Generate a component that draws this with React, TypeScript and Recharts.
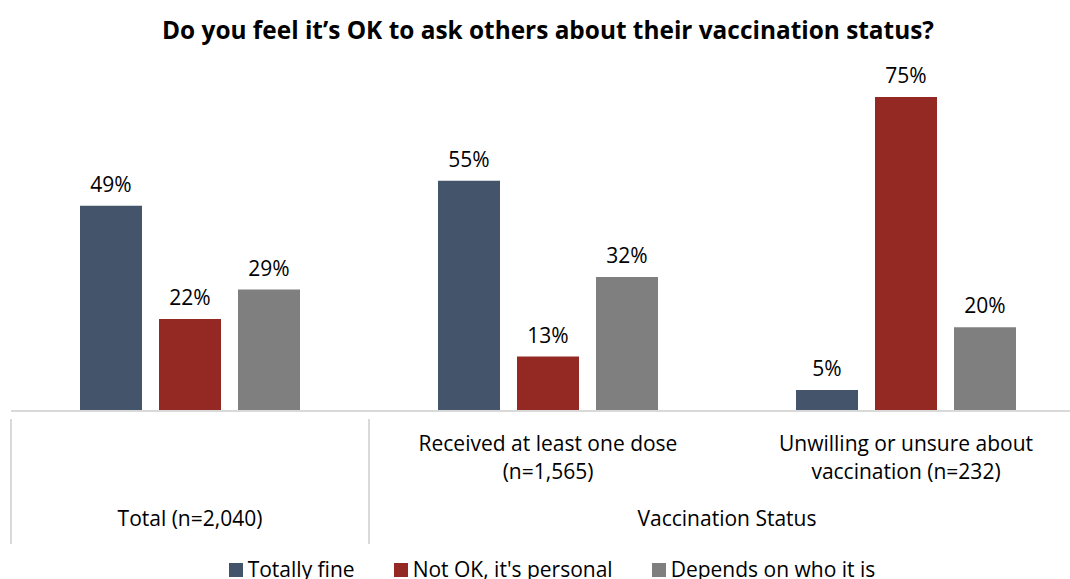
import React from 'react';
import { BarChart, Bar, XAxis, YAxis, LabelList, Legend } from 'recharts';

const categories = ['Total (n=2,040)', 'Received at least one dose (n=1,565)', 'Unwilling or unsure about vaccination (n=232)'];
const innerLabels = [[], ['Received at least one dose', '(n=1,565)'], ['Unwilling or unsure about', 'vaccination (n=232)']];
const totallyFine = [49, 55, 5];
const notOk = [22, 13, 75];
const depends = [29, 32, 20];

const FONT = '"Open Sans", sans-serif';
const CHART_W = 1100;
const MARGIN_L = 11;
const MARGIN_R = 15;
const STEP = (CHART_W - MARGIN_L - MARGIN_R) / categories.length;

const data = categories.map((name, i) => ({
  name,
  fine: totallyFine[i],
  notOk: notOk[i],
  depends: depends[i],
}));

const series = [
  { key: 'fine', label: 'Totally fine', color: '#44546A' },
  { key: 'notOk', label: "Not OK, it's personal", color: '#942823' },
  { key: 'depends', label: 'Depends on who it is', color: '#7F7F7F' },
];

const GroupTick = (props: any) => {
  const { x, y, index } = props;
  const lines: string[] = innerLabels[index] || [];
  return (
    <g>
      {lines.map((t, i) => (
        <text key={i} x={x} y={y + 32 + i * 28} textAnchor="middle" fontSize={21} fill="#000" fontFamily={FONT}>
          {t}
        </text>
      ))}
      {index === 0 && (
        <>
          <line x1={x - STEP / 2} x2={x - STEP / 2} y1={y} y2={y + 125} stroke="#d9d9d9" strokeWidth={2} />
          <line x1={x + STEP / 2} x2={x + STEP / 2} y1={y} y2={y + 125} stroke="#d9d9d9" strokeWidth={2} />
          <text x={x} y={y + 107} textAnchor="middle" fontSize={21} fill="#000" fontFamily={FONT}>
            Total (n=2,040)
          </text>
        </>
      )}
      {index === 2 && (
        <text x={x - STEP / 2} y={y + 107} textAnchor="middle" fontSize={21} fill="#000" fontFamily={FONT}>
          Vaccination Status
        </text>
      )}
    </g>
  );
};

const LegendContent = () => (
  <div style={{ display: 'flex', justifyContent: 'center', gap: 39, fontFamily: FONT, fontSize: 21, lineHeight: '28px' }}>
    {series.map((s) => (
      <div key={s.key} style={{ display: 'flex', alignItems: 'center' }}>
        <span style={{ display: 'inline-block', width: 14, height: 14, background: s.color, marginRight: 5, marginTop: 2 }} />
        <span>{s.label}</span>
      </div>
    ))}
  </div>
);

export default function App() {
  return (
    <div style={{ position: 'absolute', left: 0, top: 0, width: 1070, height: 579, overflow: 'hidden', background: '#fff' }}>
      <div
        style={{
          position: 'absolute',
          left: MARGIN_L,
          width: CHART_W - MARGIN_L - MARGIN_R,
          top: 14,
          textAlign: 'center',
          fontFamily: FONT,
          fontWeight: 'bold',
          fontSize: 24.4,
          lineHeight: '32px',
          color: '#000',
        }}
      >
        Do you feel it’s OK to ask others about their vaccination status?
      </div>
      <BarChart
        width={CHART_W}
        height={579}
        data={data}
        margin={{ top: 76, right: MARGIN_R, left: MARGIN_L, bottom: 38 }}
        barGap={17}
        barCategoryGap={69}
      >
        <XAxis
          dataKey="name"
          axisLine={{ stroke: '#d9d9d9', strokeWidth: 2 }}
          tickLine={false}
          height={130}
          interval={0}
          tick={<GroupTick />}
        />
        <YAxis hide domain={[0, 80]} />
        <Legend
          verticalAlign="middle"
          layout="horizontal"
          align="center"
          content={<LegendContent />}
          wrapperStyle={{ top: 555, left: 15, width: 1074 }}
        />
        {series.map((s) => (
          <Bar key={s.key} dataKey={s.key} name={s.label} fill={s.color} barSize={62} isAnimationActive={false}>
            <LabelList
              dataKey={s.key}
              position="top"
              offset={14}
              formatter={(v: any) => `${v}%`}
              style={{ fontFamily: FONT, fontSize: 21, fill: '#000' }}
            />
          </Bar>
        ))}
      </BarChart>
    </div>
  );
}
